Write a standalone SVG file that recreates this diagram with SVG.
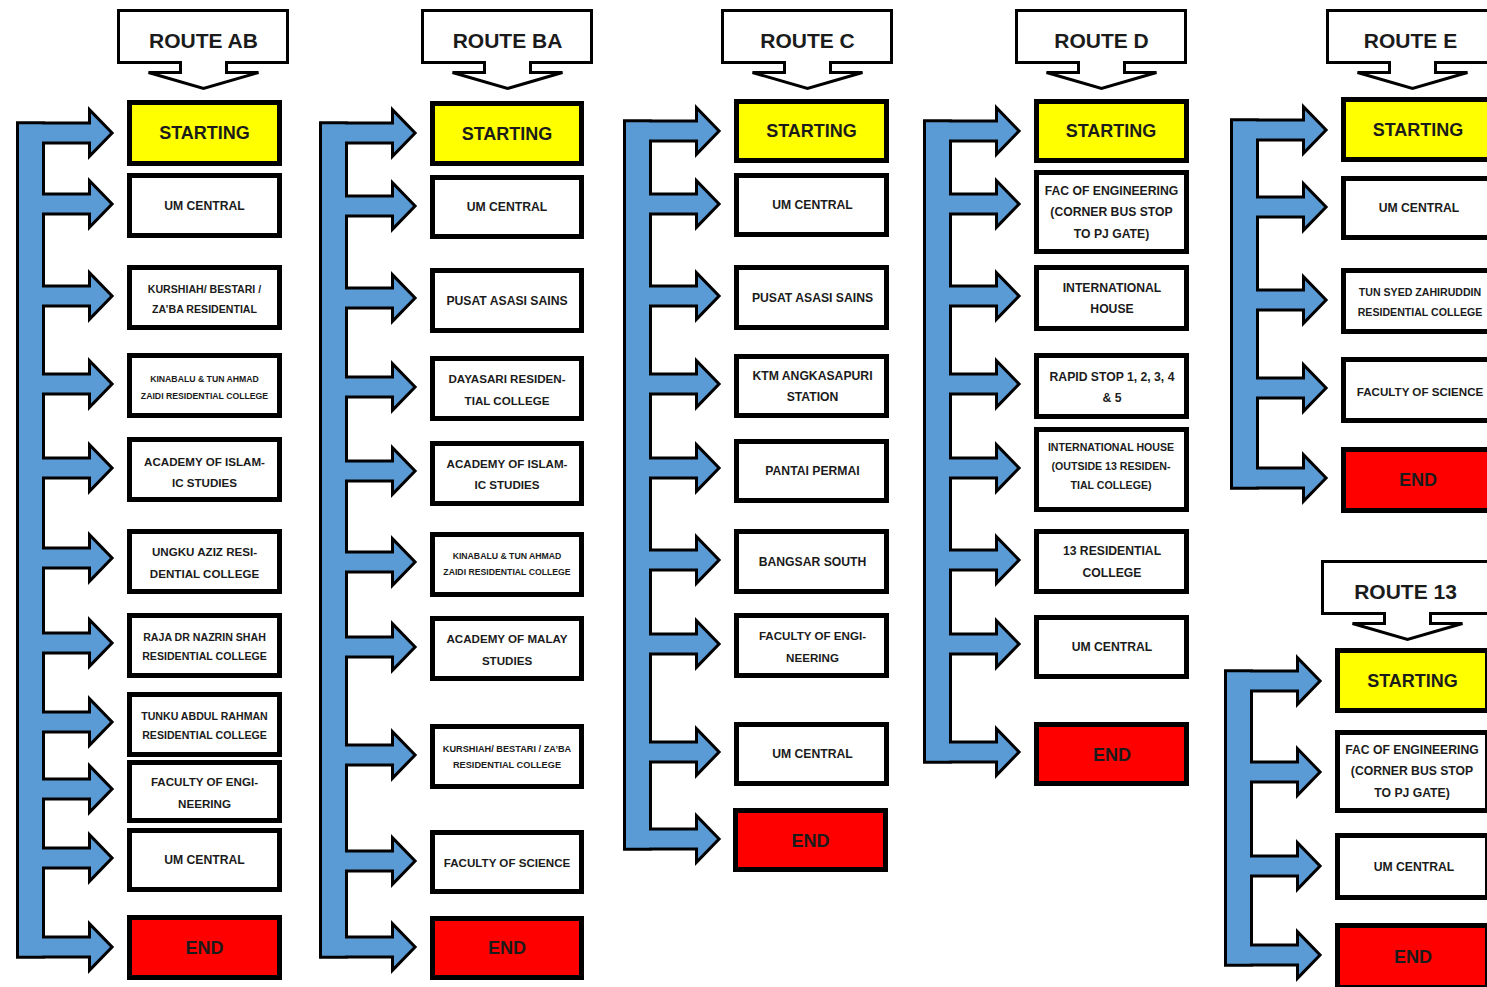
<svg xmlns="http://www.w3.org/2000/svg" width="1487" height="987" viewBox="0 0 1487 987">
<style>
text{font-family:"Liberation Sans",Arial,sans-serif;font-weight:bold;text-anchor:middle;dominant-baseline:central;fill:#1b1b1b}
.box{fill:#fff;stroke:#000;stroke-width:5}
.st{fill:#ffff00;stroke:#000;stroke-width:5}
.en{fill:#ff0000;stroke:#000;stroke-width:5}
.hd{fill:#fff;stroke:#000;stroke-width:3;stroke-linejoin:miter}
.co{fill:#000;stroke:#000;stroke-width:6;stroke-linejoin:miter}
.cf{fill:#5b9bd5;stroke:none}
.h{font-size:21px}
.s{font-size:18px}
.a{font-size:12.2px}
.b{font-size:11.6px}
.c{font-size:10.6px}
.d{font-size:9.2px}
.e{font-size:8.7px}
</style>
<defs>
<path id="ar" d="M0,-8.5 H72 V-19.5 L91,0 L72,19.5 V8.5 H0 Z"/>
<path id="hdr" d="M0,0 H169 V52 H108 V62 H140 L85,78 L30,62 H62 V52 H0 Z"/>
</defs>

<g id="connectors">
<g id="conn-ab">
<g class="co"><rect x="19" y="124.5" width="23" height="831"/><use href="#ar" x="19" y="133"/><use href="#ar" x="19" y="204"/><use href="#ar" x="19" y="296"/><use href="#ar" x="19" y="384"/><use href="#ar" x="19" y="468"/><use href="#ar" x="19" y="558"/><use href="#ar" x="19" y="643"/><use href="#ar" x="19" y="722"/><use href="#ar" x="19" y="789"/><use href="#ar" x="19" y="858"/><use href="#ar" x="19" y="947"/></g>
<g class="cf"><rect x="19" y="124.5" width="23" height="831"/><use href="#ar" x="19" y="133"/><use href="#ar" x="19" y="204"/><use href="#ar" x="19" y="296"/><use href="#ar" x="19" y="384"/><use href="#ar" x="19" y="468"/><use href="#ar" x="19" y="558"/><use href="#ar" x="19" y="643"/><use href="#ar" x="19" y="722"/><use href="#ar" x="19" y="789"/><use href="#ar" x="19" y="858"/><use href="#ar" x="19" y="947"/></g>
</g>
<g id="conn-ba">
<g class="co"><rect x="322" y="124.5" width="23" height="831"/><use href="#ar" x="322" y="133"/><use href="#ar" x="322" y="206"/><use href="#ar" x="322" y="298"/><use href="#ar" x="322" y="387"/><use href="#ar" x="322" y="471"/><use href="#ar" x="322" y="562"/><use href="#ar" x="322" y="647"/><use href="#ar" x="322" y="755"/><use href="#ar" x="322" y="861"/><use href="#ar" x="322" y="947"/></g>
<g class="cf"><rect x="322" y="124.5" width="23" height="831"/><use href="#ar" x="322" y="133"/><use href="#ar" x="322" y="206"/><use href="#ar" x="322" y="298"/><use href="#ar" x="322" y="387"/><use href="#ar" x="322" y="471"/><use href="#ar" x="322" y="562"/><use href="#ar" x="322" y="647"/><use href="#ar" x="322" y="755"/><use href="#ar" x="322" y="861"/><use href="#ar" x="322" y="947"/></g>
</g>
<g id="conn-c">
<g class="co"><rect x="626" y="122.5" width="23" height="725"/><use href="#ar" x="626" y="131"/><use href="#ar" x="626" y="204"/><use href="#ar" x="626" y="296"/><use href="#ar" x="626" y="384"/><use href="#ar" x="626" y="468"/><use href="#ar" x="626" y="560"/><use href="#ar" x="626" y="644"/><use href="#ar" x="626" y="752"/><use href="#ar" x="626" y="839"/></g>
<g class="cf"><rect x="626" y="122.5" width="23" height="725"/><use href="#ar" x="626" y="131"/><use href="#ar" x="626" y="204"/><use href="#ar" x="626" y="296"/><use href="#ar" x="626" y="384"/><use href="#ar" x="626" y="468"/><use href="#ar" x="626" y="560"/><use href="#ar" x="626" y="644"/><use href="#ar" x="626" y="752"/><use href="#ar" x="626" y="839"/></g>
</g>
<g id="conn-d">
<g class="co"><rect x="926" y="122.5" width="23" height="638"/><use href="#ar" x="926" y="131"/><use href="#ar" x="926" y="204"/><use href="#ar" x="926" y="296"/><use href="#ar" x="926" y="384"/><use href="#ar" x="926" y="468"/><use href="#ar" x="926" y="560"/><use href="#ar" x="926" y="644"/><use href="#ar" x="926" y="752"/></g>
<g class="cf"><rect x="926" y="122.5" width="23" height="638"/><use href="#ar" x="926" y="131"/><use href="#ar" x="926" y="204"/><use href="#ar" x="926" y="296"/><use href="#ar" x="926" y="384"/><use href="#ar" x="926" y="468"/><use href="#ar" x="926" y="560"/><use href="#ar" x="926" y="644"/><use href="#ar" x="926" y="752"/></g>
</g>
<g id="conn-e">
<g class="co"><rect x="1233" y="121.5" width="23" height="365"/><use href="#ar" x="1233" y="130"/><use href="#ar" x="1233" y="207"/><use href="#ar" x="1233" y="300"/><use href="#ar" x="1233" y="388"/><use href="#ar" x="1233" y="478"/></g>
<g class="cf"><rect x="1233" y="121.5" width="23" height="365"/><use href="#ar" x="1233" y="130"/><use href="#ar" x="1233" y="207"/><use href="#ar" x="1233" y="300"/><use href="#ar" x="1233" y="388"/><use href="#ar" x="1233" y="478"/></g>
</g>
<g id="conn-13">
<g class="co"><rect x="1227" y="672.5" width="23" height="291"/><use href="#ar" x="1227" y="681"/><use href="#ar" x="1227" y="772"/><use href="#ar" x="1227" y="866"/><use href="#ar" x="1227" y="955"/></g>
<g class="cf"><rect x="1227" y="672.5" width="23" height="291"/><use href="#ar" x="1227" y="681"/><use href="#ar" x="1227" y="772"/><use href="#ar" x="1227" y="866"/><use href="#ar" x="1227" y="955"/></g>
</g>
</g>

<g id="headers">
<g id="hdr-ab"><use href="#hdr" class="hd" x="118.5" y="10.5"/><text class="h" x="203.5" y="40">ROUTE AB</text></g>
<g id="hdr-ba"><use href="#hdr" class="hd" x="422.5" y="10.5"/><text class="h" x="507.5" y="40">ROUTE BA</text></g>
<g id="hdr-c"><use href="#hdr" class="hd" x="722.5" y="10.5"/><text class="h" x="807.5" y="40">ROUTE C</text></g>
<g id="hdr-d"><use href="#hdr" class="hd" x="1016.5" y="10.5"/><text class="h" x="1101.5" y="40">ROUTE D</text></g>
<g id="hdr-e"><use href="#hdr" class="hd" x="1327.5" y="10.5"/><text class="h" x="1410.5" y="40">ROUTE E</text></g>
<g id="hdr-13"><use href="#hdr" class="hd" x="1322.5" y="561.5"/><text class="h" x="1405.5" y="591">ROUTE 13</text></g>
</g>

<g id="route-ab">
<g id="ab-1"><rect class="st" x="129.5" y="102.5" width="150" height="61"/><text class="s" x="204.5" y="133">STARTING</text></g>
<g id="ab-2"><rect class="box" x="129.5" y="175.5" width="150" height="60"/><text class="a" x="204.5" y="206">UM CENTRAL</text></g>
<g id="ab-3"><rect class="box" x="129.5" y="267.5" width="150" height="60"/><text class="c" x="204.5" y="289">KURSHIAH/ BESTARI /</text><text class="c" x="204.5" y="309">ZA’BA RESIDENTIAL</text></g>
<g id="ab-4"><rect class="box" x="129.5" y="355.5" width="150" height="60"/><text class="e" x="204.5" y="379">KINABALU &amp; TUN AHMAD</text><text class="e" x="204.5" y="396">ZAIDI RESIDENTIAL COLLEGE</text></g>
<g id="ab-5"><rect class="box" x="129.5" y="439.5" width="150" height="60"/><text class="b" x="204.5" y="461">ACADEMY OF ISLAM-</text><text class="b" x="204.5" y="482">IC STUDIES</text></g>
<g id="ab-6"><rect class="box" x="129.5" y="531.5" width="150" height="60"/><text class="b" x="204.5" y="551">UNGKU AZIZ RESI-</text><text class="b" x="204.5" y="573">DENTIAL COLLEGE</text></g>
<g id="ab-7"><rect class="box" x="129.5" y="615.5" width="150" height="60"/><text class="c" x="204.5" y="637">RAJA DR NAZRIN SHAH</text><text class="c" x="204.5" y="656">RESIDENTIAL COLLEGE</text></g>
<g id="ab-8"><rect class="box" x="129.5" y="694.5" width="150" height="60"/><text class="c" x="204.5" y="716">TUNKU ABDUL RAHMAN</text><text class="c" x="204.5" y="735">RESIDENTIAL COLLEGE</text></g>
<g id="ab-9"><rect class="box" x="129.5" y="762.5" width="150" height="58"/><text class="b" x="204.5" y="781">FACULTY OF ENGI-</text><text class="b" x="204.5" y="803">NEERING</text></g>
<g id="ab-10"><rect class="box" x="129.5" y="830.5" width="150" height="59"/><text class="a" x="204.5" y="860">UM CENTRAL</text></g>
<g id="ab-11"><rect class="en" x="129.5" y="917.5" width="150" height="60"/><text class="s" x="204.5" y="948">END</text></g>
</g>

<g id="route-ba">
<g id="ba-1"><rect class="st" x="432.5" y="103.5" width="149" height="60"/><text class="s" x="507" y="134">STARTING</text></g>
<g id="ba-2"><rect class="box" x="432.5" y="177.5" width="149" height="59"/><text class="a" x="507" y="207">UM CENTRAL</text></g>
<g id="ba-3"><rect class="box" x="432.5" y="270.5" width="149" height="60"/><text class="a" x="507" y="301">PUSAT ASASI SAINS</text></g>
<g id="ba-4"><rect class="box" x="432.5" y="358.5" width="149" height="60"/><text class="b" x="507" y="378">DAYASARI RESIDEN-</text><text class="b" x="507" y="400">TIAL COLLEGE</text></g>
<g id="ba-5"><rect class="box" x="432.5" y="443.5" width="149" height="60"/><text class="b" x="507" y="463">ACADEMY OF ISLAM-</text><text class="b" x="507" y="484">IC STUDIES</text></g>
<g id="ba-6"><rect class="box" x="432.5" y="534.5" width="149" height="60"/><text class="e" x="507" y="556">KINABALU &amp; TUN AHMAD</text><text class="e" x="507" y="572">ZAIDI RESIDENTIAL COLLEGE</text></g>
<g id="ba-7"><rect class="box" x="432.5" y="618.5" width="149" height="60"/><text class="b" x="507" y="638">ACADEMY OF MALAY</text><text class="b" x="507" y="660">STUDIES</text></g>
<g id="ba-8"><rect class="box" x="432.5" y="726.5" width="149" height="60"/><text class="d" x="507" y="749">KURSHIAH/ BESTARI / ZA’BA</text><text class="d" x="507" y="765">RESIDENTIAL COLLEGE</text></g>
<g id="ba-9"><rect class="box" x="432.5" y="832.5" width="149" height="59"/><text class="b" x="507" y="862">FACULTY OF SCIENCE</text></g>
<g id="ba-10"><rect class="en" x="432.5" y="918.5" width="149" height="59"/><text class="s" x="507" y="948">END</text></g>
</g>

<g id="route-c">
<g id="c-1"><rect class="st" x="736.5" y="101.5" width="150" height="59"/><text class="s" x="811.5" y="131">STARTING</text></g>
<g id="c-2"><rect class="box" x="736.5" y="175.5" width="150" height="59"/><text class="a" x="812.5" y="205">UM CENTRAL</text></g>
<g id="c-3"><rect class="box" x="736.5" y="267.5" width="150" height="60"/><text class="a" x="812.5" y="298">PUSAT ASASI SAINS</text></g>
<g id="c-4"><rect class="box" x="736.5" y="356.5" width="150" height="59"/><text class="a" x="812.5" y="376">KTM ANGKASAPURI</text><text class="a" x="812.5" y="397">STATION</text></g>
<g id="c-5"><rect class="box" x="736.5" y="441.5" width="150" height="59"/><text class="a" x="812.5" y="471">PANTAI PERMAI</text></g>
<g id="c-6"><rect class="box" x="736.5" y="531.5" width="150" height="60"/><text class="a" x="812.5" y="562">BANGSAR SOUTH</text></g>
<g id="c-7"><rect class="box" x="736.5" y="615.5" width="150" height="60"/><text class="b" x="812.5" y="635">FACULTY OF ENGI-</text><text class="b" x="812.5" y="657">NEERING</text></g>
<g id="c-8"><rect class="box" x="736.5" y="724.5" width="150" height="59"/><text class="a" x="812.5" y="754">UM CENTRAL</text></g>
<g id="c-9"><rect class="en" x="735.5" y="810.5" width="150" height="59"/><text class="s" x="810.5" y="841">END</text></g>
</g>

<g id="route-d">
<g id="d-1"><rect class="st" x="1036.5" y="101.5" width="150" height="59"/><text class="s" x="1111" y="131">STARTING</text></g>
<g id="d-2"><rect class="box" x="1036.5" y="172.5" width="150" height="79"/><text class="a" x="1111.5" y="191">FAC OF ENGINEERING</text><text class="a" x="1111.5" y="212">(CORNER BUS STOP</text><text class="a" x="1111.5" y="234">TO PJ GATE)</text></g>
<g id="d-3"><rect class="box" x="1036.5" y="267.5" width="150" height="61"/><text class="a" x="1112" y="288">INTERNATIONAL</text><text class="a" x="1112" y="309">HOUSE</text></g>
<g id="d-4"><rect class="box" x="1036.5" y="355.5" width="150" height="61"/><text class="a" x="1112" y="377">RAPID STOP 1, 2, 3, 4</text><text class="a" x="1112" y="398">&amp; 5</text></g>
<g id="d-5"><rect class="box" x="1036.5" y="429.5" width="150" height="80"/><text class="c" x="1111" y="447">INTERNATIONAL HOUSE</text><text class="c" x="1111" y="466">(OUTSIDE 13 RESIDEN-</text><text class="c" x="1111" y="485">TIAL COLLEGE)</text></g>
<g id="d-6"><rect class="box" x="1036.5" y="531.5" width="150" height="60"/><text class="a" x="1112" y="551">13 RESIDENTIAL</text><text class="a" x="1112" y="573">COLLEGE</text></g>
<g id="d-7"><rect class="box" x="1036.5" y="617.5" width="150" height="59"/><text class="a" x="1112" y="647">UM CENTRAL</text></g>
<g id="d-8"><rect class="en" x="1036.5" y="724.5" width="150" height="59"/><text class="s" x="1112" y="755">END</text></g>
</g>

<g id="route-e">
<g id="e-1"><rect class="st" x="1343.5" y="99.5" width="150" height="60"/><text class="s" x="1418" y="130">STARTING</text></g>
<g id="e-2"><rect class="box" x="1343.5" y="178.5" width="150" height="59"/><text class="a" x="1419" y="208">UM CENTRAL</text></g>
<g id="e-3"><rect class="box" x="1343.5" y="270.5" width="150" height="61"/><text class="c" x="1420" y="292">TUN SYED ZAHIRUDDIN</text><text class="c" x="1420" y="312">RESIDENTIAL COLLEGE</text></g>
<g id="e-4"><rect class="box" x="1343.5" y="359.5" width="150" height="61"/><text class="b" x="1420" y="391">FACULTY OF SCIENCE</text></g>
<g id="e-5"><rect class="en" x="1343.5" y="449.5" width="150" height="61"/><text class="s" x="1418" y="480">END</text></g>
</g>

<g id="route-13">
<g id="r13-1"><rect class="st" x="1337.5" y="650.5" width="150" height="60"/><text class="s" x="1412.5" y="681">STARTING</text></g>
<g id="r13-2"><rect class="box" x="1337.5" y="732.5" width="150" height="78"/><text class="a" x="1412" y="750">FAC OF ENGINEERING</text><text class="a" x="1412" y="771">(CORNER BUS STOP</text><text class="a" x="1412" y="793">TO PJ GATE)</text></g>
<g id="r13-3"><rect class="box" x="1337.5" y="835.5" width="150" height="62"/><text class="a" x="1414" y="867">UM CENTRAL</text></g>
<g id="r13-4"><rect class="en" x="1337.5" y="925.5" width="150" height="62"/><text class="s" x="1413" y="957">END</text></g>
</g>
</svg>
